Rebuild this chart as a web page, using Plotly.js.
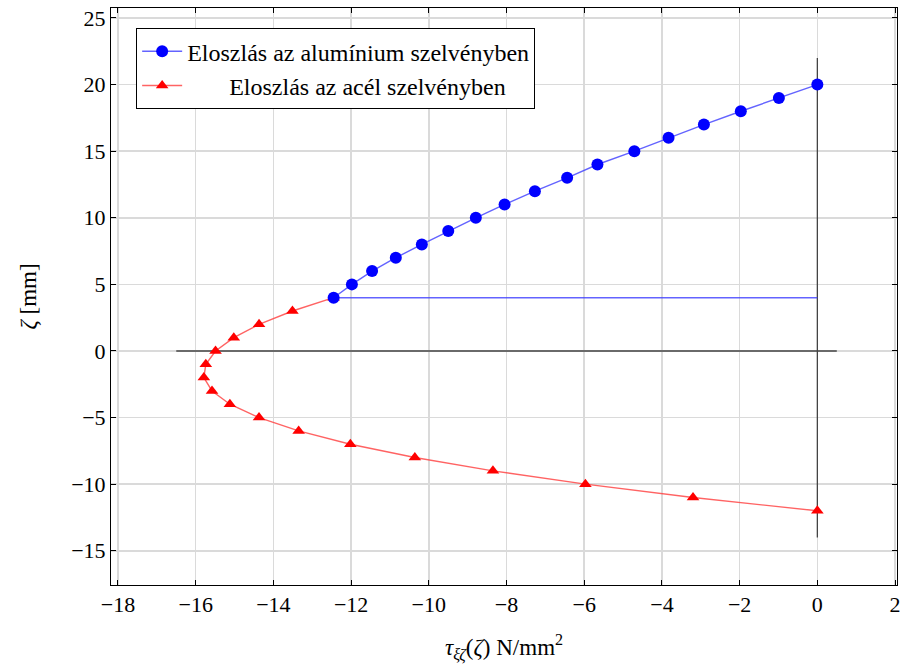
<!DOCTYPE html>
<html>
<head>
<meta charset="utf-8">
<script src="https://cdn.plot.ly/plotly-3.0.1.min.js"></script>
<style>html,body{margin:0;padding:0;background:#fff;}#chart{width:900px;height:664px;}</style>
</head>
<body>
<div id="chart"></div>
<script>
// Aluminium section distribution
const aluZeta = [4, 5, 6, 7, 8, 9, 10, 11, 12, 13, 14, 15, 16, 17, 18, 19, 20];
const aluTau  = [-12.45, -11.98, -11.46, -10.85, -10.18, -9.5, -8.79, -8.05, -7.27, -6.44, -5.66, -4.71, -3.83, -2.92, -1.97, -0.99, 0];
// Steel section distribution
const steelZeta = [-12, -11, -10, -9, -8, -7, -6, -5, -4, -3, -2, -1, 0, 1, 2, 3, 4];
const steelTau  = [0, -3.2, -5.97, -8.35, -10.36, -12.02, -13.35, -14.37, -15.12, -15.58, -15.79, -15.74, -15.49, -15.02, -14.37, -13.51, -12.45];
// Interface line (at zeta = 4)
const interfaceTau = [-12.45, 0];
const interfaceZeta = [4, 4];
// Reference axes lines
const hAxisTau = [-16.5, 0.5];
const hAxisZeta = [0, 0];
const vAxisTau = [0, 0];
const vAxisZeta = [-14, 22];

const xTicks = [-18, -16, -14, -12, -10, -8, -6, -4, -2, 0, 2];
const yTicks = [-15, -10, -5, 0, 5, 10, 15, 20, 25];
const fmt = v => (v < 0 ? '\u2212' + Math.abs(v) : String(v));

const serif = 'Times New Roman, Liberation Serif, DejaVu Serif, serif';

const traces = [
  {x: hAxisTau, y: hAxisZeta, mode: 'lines', line: {color: '#444', width: 1.3}, showlegend: false, hoverinfo: 'skip'},
  {x: vAxisTau, y: vAxisZeta, mode: 'lines', line: {color: '#444', width: 1.3}, showlegend: false, hoverinfo: 'skip'},
  {x: interfaceTau, y: interfaceZeta, mode: 'lines', line: {color: 'rgba(60,60,255,0.8)', width: 1.4}, showlegend: false, hoverinfo: 'skip'},
  {x: steelTau, y: steelZeta, mode: 'lines+markers', name: '\u00a0\u00a0\u00a0\u00a0\u00a0\u00a0\u00a0Eloszlás az acél szelvényben',
   line: {color: 'rgba(255,60,60,0.8)', width: 1.4}, marker: {symbol: 'triangle-up', size: 11, color: '#ff0000'}},
  {x: aluTau, y: aluZeta, mode: 'lines+markers', name: 'Eloszlás az alumínium szelvényben',
   line: {color: 'rgba(60,60,255,0.8)', width: 1.4}, marker: {symbol: 'circle', size: 12, color: '#0000ff'}}
];

const layout = {
  width: 900, height: 664,
  margin: {l: 111, r: 3, t: 8, b: 79},
  paper_bgcolor: '#fff', plot_bgcolor: '#fff',
  font: {family: serif, size: 21, color: '#000'},
  showlegend: true,
  legend: {x: 0.032, y: 0.965, xanchor: 'left', yanchor: 'top', bgcolor: '#fff', bordercolor: '#000', borderwidth: 1,
           font: {family: serif, size: 24, color: '#000'}, traceorder: 'reversed', itemwidth: 40, tracegroupgap: 0},
  xaxis: {
    range: [-18.18, 2.05], tickvals: xTicks, ticktext: xTicks.map(fmt),
    showgrid: true, gridcolor: '#dadada', gridwidth: 1.5, zeroline: false,
    showline: true, linecolor: '#000', linewidth: 1, mirror: 'ticks',
    ticks: 'inside', ticklen: 5, tickcolor: '#000', ticklabeloverflow: 'allow',
    tickfont: {family: serif, size: 22},
    title: {text: '<i>τ</i><sub><i>ξζ</i></sub>(<i>ζ</i>) N/mm<sup>2</sup>', font: {family: serif, size: 23}, standoff: 22}
  },
  yaxis: {
    range: [-17.57, 25.75], tickvals: yTicks, ticktext: yTicks.map(fmt),
    showgrid: true, gridcolor: '#dadada', gridwidth: 1.5, zeroline: false,
    showline: true, linecolor: '#000', linewidth: 1, mirror: 'ticks',
    ticks: 'inside', ticklen: 5, tickcolor: '#000',
    tickfont: {family: serif, size: 22},
    title: {text: '<i>ζ</i> [mm]', font: {family: serif, size: 23}, standoff: 28}
  }
};

Plotly.newPlot('chart', traces, layout, {displayModeBar: false, staticPlot: true});
</script>
</body>
</html>
